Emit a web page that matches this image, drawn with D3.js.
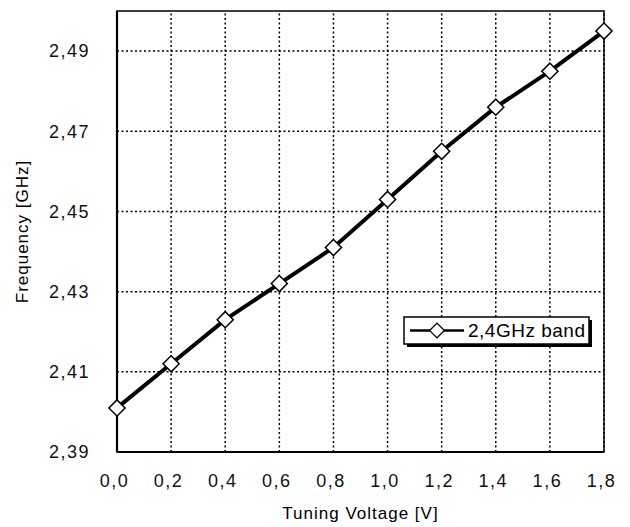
<!DOCTYPE html>
<html>
<head>
<meta charset="utf-8">
<script src="https://cdn.jsdelivr.net/npm/d3@7"></script>
<style>
  body { margin: 0; background: #fff; }
  svg { display: block; font-family: "Liberation Sans", Arial, sans-serif; }
</style>
</head>
<body>
<svg id="chart" width="630" height="527"></svg>
<script>
// data
const voltages = [0.0, 0.2, 0.4, 0.6, 0.8, 1.0, 1.2, 1.4, 1.6, 1.8];
const freqs = [2.401, 2.412, 2.423, 2.432, 2.441, 2.453, 2.465, 2.476, 2.485, 2.495];
const xTicks = [0.0, 0.2, 0.4, 0.6, 0.8, 1.0, 1.2, 1.4, 1.6, 1.8];
const yTicks = [2.39, 2.41, 2.43, 2.45, 2.47, 2.49];
const seriesName = '2,4GHz band';

const svg = d3.select('#chart');
const margin = { left: 117, right: 26, top: 11, bottom: 75 };
const width = 630, height = 527;

const x = d3.scaleLinear().domain([0, 1.8]).range([margin.left, width - margin.right]);
const y = d3.scaleLinear().domain([2.39, 2.50]).range([height - margin.bottom, margin.top]);

const comma = v => v.toFixed(v >= 2 ? 2 : 1).replace('.', ',');

// grid
svg.append('g')
    .selectAll('line')
    .data(xTicks.slice(1))
    .enter()
    .append('line')
    .attr('x1', d => x(d)).attr('x2', d => x(d))
    .attr('y1', y(2.39)).attr('y2', y(2.50))
    .style('stroke', '#000')
    .style('stroke-width', 1.5)
    .style('stroke-dasharray', '2,2.5');

svg.append('g')
    .selectAll('line')
    .data(yTicks.slice(1))
    .enter()
    .append('line')
    .attr('x1', x(0)).attr('x2', x(1.8))
    .attr('y1', d => y(d)).attr('y2', d => y(d))
    .style('stroke', '#000')
    .style('stroke-width', 1.5)
    .style('stroke-dasharray', '2,2.5');

// frame
svg.append('rect')
    .attr('x', x(0)).attr('y', y(2.50))
    .attr('width', x(1.8) - x(0))
    .attr('height', y(2.39) - y(2.50))
    .style('fill', 'none')
    .style('stroke', '#000')
    .style('stroke-width', 1.5);
svg.append('line')
    .attr('x1', x(0)).attr('x2', x(0))
    .attr('y1', y(2.50)).attr('y2', y(2.39))
    .style('stroke', '#000').style('stroke-width', 2.2);
svg.append('line')
    .attr('x1', x(0)).attr('x2', x(1.8))
    .attr('y1', y(2.39)).attr('y2', y(2.39))
    .style('stroke', '#000').style('stroke-width', 2.2);

// axes (labels only)
const xAxis = svg.append('g')
    .attr('transform', `translate(-3,${y(2.39)})`)
    .call(d3.axisBottom(x).tickValues(xTicks).tickSize(0).tickPadding(22).tickFormat(comma));
const yAxis = svg.append('g')
    .attr('transform', `translate(${x(0)},0)`)
    .call(d3.axisLeft(y).tickValues(yTicks).tickSize(0).tickPadding(27).tickFormat(comma));
[xAxis, yAxis].forEach(a => {
    a.select('.domain').remove();
    a.selectAll('text')
        .style('font-family', '"Liberation Sans", Arial, sans-serif')
        .style('font-size', '18px')
        .style('letter-spacing', '1.5px')
        .style('fill', '#111');
});

// axis titles
svg.append('text')
    .attr('x', (x(0) + x(1.8)) / 2)
    .attr('y', 519)
    .attr('text-anchor', 'middle')
    .style('font-size', '17px')
    .style('letter-spacing', '1px')
    .text('Tuning Voltage [V]');
svg.append('text')
    .attr('transform', `translate(28,${(y(2.39) + y(2.50)) / 2}) rotate(-90)`)
    .attr('text-anchor', 'middle')
    .style('font-size', '17px')
    .style('letter-spacing', '1px')
    .text('Frequency [GHz]');

// series
const pts = voltages.map((v, i) => ({ v, f: freqs[i] }));
svg.append('path')
    .datum(pts)
    .attr('d', d3.line().x(d => x(d.v)).y(d => y(d.f)))
    .style('fill', 'none')
    .style('stroke', '#000')
    .style('stroke-width', 4);

svg.append('g')
    .selectAll('path')
    .data(pts)
    .enter()
    .append('path')
    .attr('transform', d => `translate(${x(d.v)},${y(d.f)}) rotate(45)`)
    .attr('d', d3.symbol().type(d3.symbolSquare).size(130))
    .style('fill', '#fff')
    .style('stroke', '#000')
    .style('stroke-width', 1.5);

// legend
const lg = svg.append('g').attr('transform', 'translate(404,317)');
lg.append('rect')
    .attr('x', 3).attr('y', 3).attr('width', 185).attr('height', 27)
    .style('fill', '#000');
lg.append('rect')
    .attr('x', 0).attr('y', 0).attr('width', 185).attr('height', 27)
    .style('fill', '#fff')
    .style('stroke', '#000')
    .style('stroke-width', 1.5);
lg.append('line')
    .attr('x1', 6).attr('x2', 60).attr('y1', 13.5).attr('y2', 13.5)
    .style('stroke', '#000').style('stroke-width', 2.5);
lg.append('path')
    .attr('transform', 'translate(33,13.5) rotate(45)')
    .attr('d', d3.symbol().type(d3.symbolSquare).size(110))
    .style('fill', '#fff').style('stroke', '#000').style('stroke-width', 1.3);
lg.append('text')
    .attr('x', 64).attr('y', 20)
    .style('font-size', '19px')
    .style('letter-spacing', '0.5px')
    .text(seriesName);
</script>
</body>
</html>
